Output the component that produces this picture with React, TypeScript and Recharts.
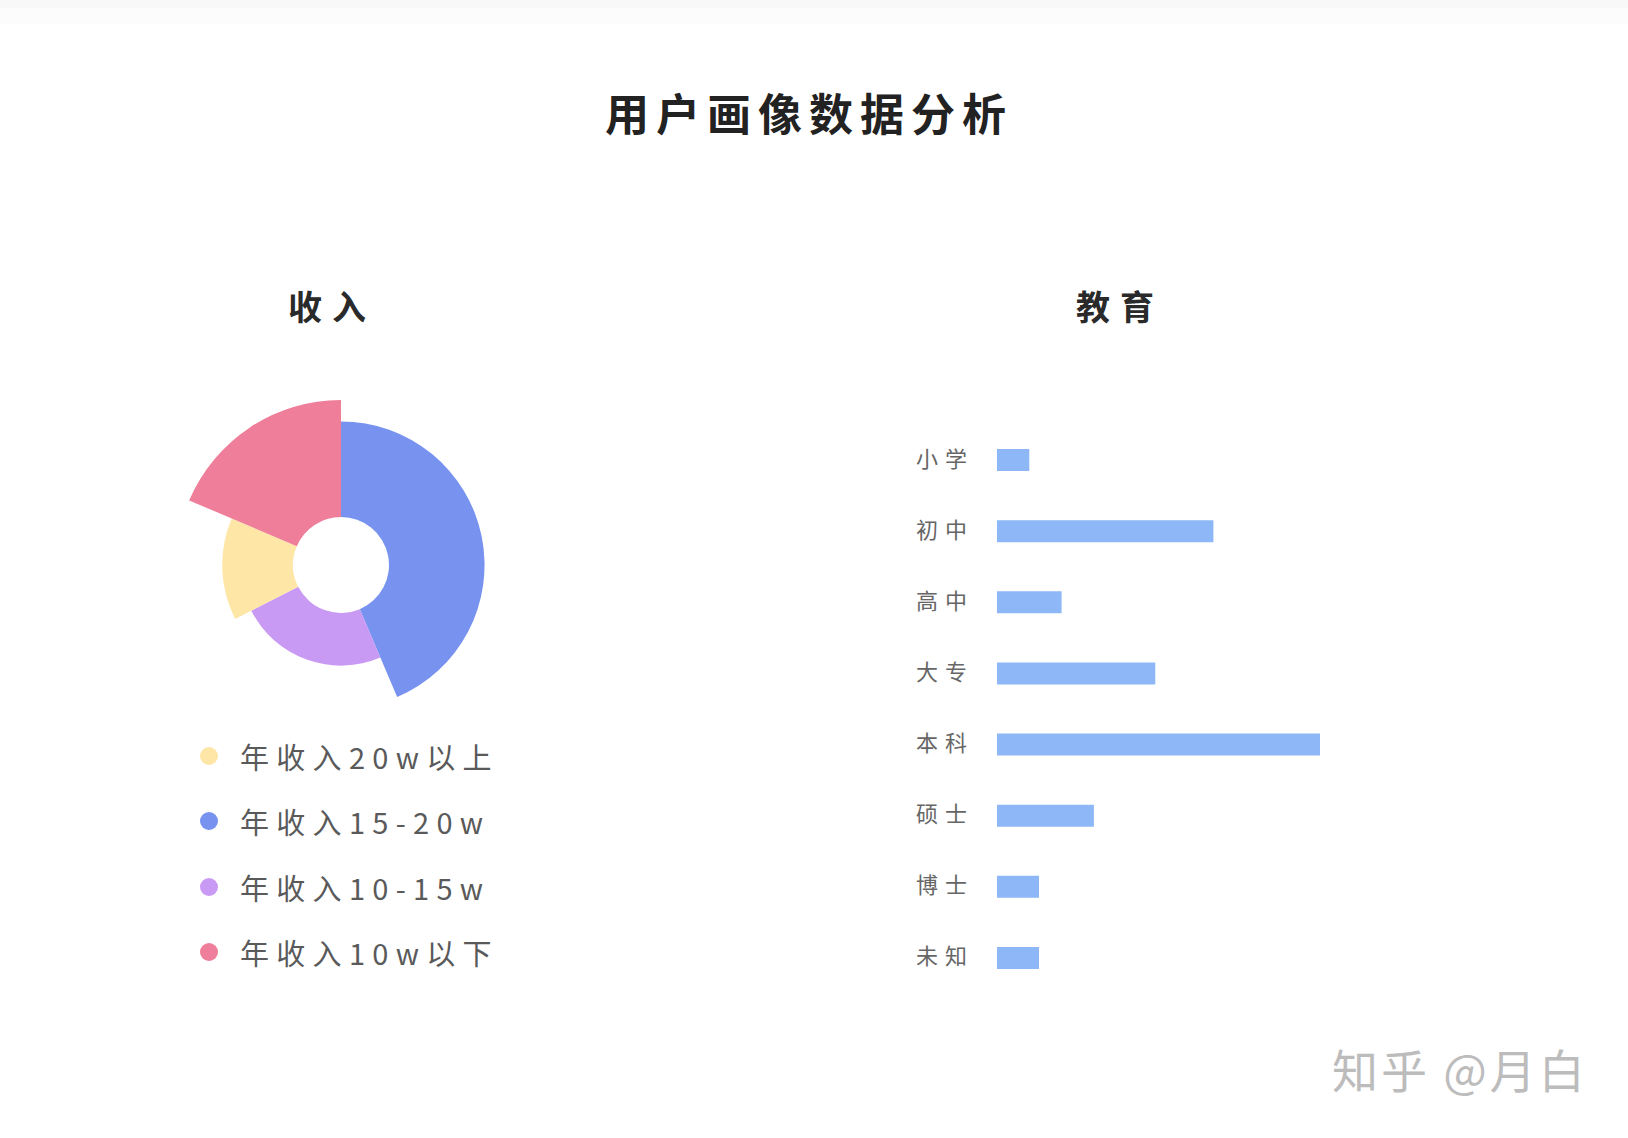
import React from "react";
import { PieChart, Pie, Cell, BarChart, Bar, XAxis, YAxis } from "recharts";

// income rose chart, clockwise from 12 o'clock
const incomeNames = ["年收入15-20w", "年收入10-15w", "年收入20w以上", "年收入10w以下"];
const incomeShare = [43.6, 23.9, 13.9, 18.6];
const incomeReach = [87, 61, 72, 100];
const incomeColors = ["#7792ef", "#c99af4", "#fde6a6", "#ee7e99"];

const legendOrder = ["年收入20w以上", "年收入15-20w", "年收入10-15w", "年收入10w以下"];

// education bars
const eduLevels = ["小学", "初中", "高中", "大专", "本科", "硕士", "博士", "未知"];
const eduValues = [10, 67, 20, 49, 100, 30, 13, 13];

const FONT = '"Noto Sans CJK SC", "Noto Sans", sans-serif';
const INNER_R = 48;
const MAX_R = 165;

const incomeData = incomeNames.map((name, i) => ({ name, share: incomeShare[i], reach: incomeReach[i] }));
const eduData = eduLevels.map((level, i) => ({ level, value: eduValues[i] }));
const maxReach = Math.max(...incomeReach);

const EduTick = ({ x, y, payload }: any) => (
  <text
    x={x}
    y={y}
    dy={7}
    textAnchor="end"
    fontFamily={FONT}
    fontSize={22}
    letterSpacing={7}
    fill="#666"
  >
    {payload.value}
  </text>
);

export default function App() {
  return (
    <div
      style={{
        position: "absolute",
        left: 0,
        top: 0,
        width: 1628,
        height: 1138,
        background: "#fff",
        fontFamily: FONT,
        overflow: "hidden",
      }}
    >
      <div style={{ position: "absolute", left: 0, top: 0, width: 1628, height: 8, background: "#f8f8f8" }} />
      <div style={{ position: "absolute", left: 0, top: 8, width: 1628, height: 16, background: "#fcfcfc" }} />

      <div
        style={{
          position: "absolute",
          left: 605,
          top: 90,
          fontSize: 44,
          lineHeight: 1,
          fontWeight: 700,
          letterSpacing: 7,
          color: "#222",
          whiteSpace: "nowrap",
        }}
      >
        用户画像数据分析
      </div>

      <div style={{ position: "absolute", left: 288, top: 289, fontSize: 34, lineHeight: 1, fontWeight: 700, letterSpacing: 10, color: "#2a2a2a" }}>
        收入
      </div>
      <div style={{ position: "absolute", left: 1076, top: 289, fontSize: 34, lineHeight: 1, fontWeight: 700, letterSpacing: 10, color: "#2a2a2a" }}>
        教育
      </div>

      <div style={{ position: "absolute", left: 136, top: 360 }}>
        <PieChart width={400} height={400}>
          {incomeData.map((d, k) => (
            <Pie
              key={d.name}
              data={incomeData}
              dataKey="share"
              nameKey="name"
              cx={200}
              cy={200}
              startAngle={90}
              endAngle={-270}
              innerRadius={INNER_R}
              outerRadius={(MAX_R * d.reach) / maxReach}
              stroke="none"
              isAnimationActive={false}
            >
              {incomeData.map((e, i) => (
                <Cell key={e.name} fill={incomeColors[i]} fillOpacity={i === k ? 1 : 0} />
              ))}
            </Pie>
          ))}
        </PieChart>
      </div>

      <div style={{ position: "absolute", left: 200, top: 723 }}>
        {legendOrder.map((name) => (
          <div key={name} style={{ display: "flex", alignItems: "center", height: 65.5 }}>
            <span
              style={{
                width: 18,
                height: 18,
                borderRadius: 9,
                background: incomeColors[incomeNames.indexOf(name)],
                marginRight: 22,
              }}
            />
            <span style={{ fontSize: 29, letterSpacing: 7.3, color: "#5a5a5a", whiteSpace: "nowrap" }}>{name}</span>
          </div>
        ))}
      </div>

      <div style={{ position: "absolute", left: 860, top: 424 }}>
        <BarChart
          width={460}
          height={569}
          data={eduData}
          layout="vertical"
          margin={{ top: 0, right: 0, bottom: 0, left: 0 }}
        >
          <XAxis type="number" domain={[0, 100]} hide />
          <YAxis
            type="category"
            dataKey="level"
            width={137}
            axisLine={false}
            tickLine={false}
            tickSize={0}
            tickMargin={23}
            tick={<EduTick />}
            interval={0}
          />
          <Bar dataKey="value" fill="#8db7f6" barSize={22} isAnimationActive={false} />
        </BarChart>
      </div>

      <div
        style={{
          position: "absolute",
          left: 1332,
          top: 1045,
          fontSize: 46,
          lineHeight: 1,
          letterSpacing: 3,
          color: "#bcbcbc",
          whiteSpace: "nowrap",
        }}
      >
        知乎 @月白
      </div>
    </div>
  );
}
